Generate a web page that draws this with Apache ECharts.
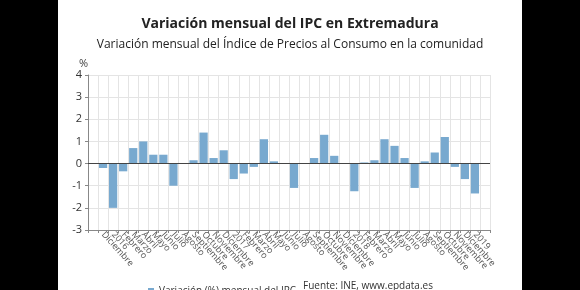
<!DOCTYPE html>
<html>
<head>
<meta charset="utf-8">
<script src="https://cdn.jsdelivr.net/npm/echarts@6/dist/echarts.min.js"></script>
<style>
  html, body { margin: 0; padding: 0; background: #000; }
  #chart { position: absolute; left: 58px; top: 0; width: 464px; height: 290px; background: #fff; }
</style>
</head>
<body>
<div id="chart"></div>
<script>
// months from Dec 2015 to Jan 2019
const months = [
  'Diciembre', '2016', 'Febrero', 'Marzo', 'Abril', 'Mayo', 'Junio', 'Julio', 'Agosto', 'Septiembre', 'Octubre', 'Noviembre',
  'Diciembre', '2017', 'Febrero', 'Marzo', 'Abril', 'Mayo', 'Junio', 'Julio', 'Agosto', 'Septiembre', 'Octubre', 'Noviembre',
  'Diciembre', '2018', 'Febrero', 'Marzo', 'Abril', 'Mayo', 'Junio', 'Julio', 'Agosto', 'Septiembre', 'Octubre', 'Noviembre',
  'Diciembre', '2019'
]
const variacion = [
  -0.2, -2.0, -0.35, 0.7, 1.0, 0.4, 0.4, -1.0, 0.0, 0.15, 1.4, 0.25,
  0.6, -0.7, -0.45, -0.15, 1.1, 0.1, 0.0, -1.1, 0.0, 0.25, 1.3, 0.35,
  0.0, -1.25, 0.05, 0.15, 1.1, 0.8, 0.25, -1.1, 0.1, 0.5, 1.2, -0.15,
  -0.7, -1.35
]
const yTicks = [-3, -2, -1, 0, 1, 2, 3, 4]

const seriesName = 'Variación (%) mensual del IPC'
const fuente = 'Fuente: INE, www.epdata.es'

// one empty slot at each end, like the reference
const cats = [''].concat(months, [''])
const vals = [null].concat(variacion, [null])

const chart = echarts.init(document.getElementById('chart'))
const font = '"Open Sans", sans-serif'

chart.setOption({
  backgroundColor: '#fff',
  animation: false,
  textStyle: { fontFamily: font },
  title: {
    text: 'Variación mensual del IPC en Extremadura',
    subtext: 'Variación mensual del Índice de Precios al Consumo en la comunidad',
    left: 'center',
    top: 12,
    itemGap: 8,
    textStyle: { fontFamily: font, fontSize: 14, fontWeight: 'bold', color: '#222' },
    subtextStyle: { fontFamily: font, fontSize: 12, color: '#222' }
  },
  legend: {
    left: 85,
    top: 281,
    itemWidth: 6,
    itemHeight: 6,
    icon: 'rect',
    textStyle: { fontFamily: font, fontSize: 10, color: '#333' },
    data: [seriesName]
  },
  graphic: [{
    type: 'text',
    left: 245,
    top: 281,
    z: 10,
    style: { text: fuente, font: '10px "Open Sans", sans-serif', fill: '#333' }
  }],
  grid: { left: 30, right: 32, top: 75, bottom: 60 },
  xAxis: {
    type: 'category',
    data: cats,
    axisLine: { onZero: false, lineStyle: { color: '#888' } },
    axisTick: { show: true, interval: 0, length: 3, lineStyle: { color: '#888' } },
    axisLabel: { interval: 0, rotate: -48, color: '#555', fontSize: 9, margin: 3 },
    splitLine: { show: true, interval: 0, lineStyle: { color: '#e4e4e4' } }
  },
  yAxis: {
    type: 'value',
    min: yTicks[0],
    max: yTicks[yTicks.length - 1],
    interval: 1,
    name: '%',
    nameGap: 6,
    nameTextStyle: { color: '#444', fontSize: 11, align: 'right' },
    axisLine: { show: true, lineStyle: { color: '#888' } },
    axisTick: { show: true, length: 3, lineStyle: { color: '#888' } },
    axisLabel: { color: '#333', fontSize: 11, margin: 6 },
    splitLine: { lineStyle: { color: '#e4e4e4' } }
  },
  series: [{
    name: seriesName,
    type: 'bar',
    data: vals,
    barCategoryGap: '18%',
    itemStyle: { color: '#78a9cf' },
    markLine: {
      silent: true,
      symbol: 'none',
      label: { show: false },
      lineStyle: { color: '#444', type: 'solid', width: 1.2 },
      data: [{ yAxis: 0 }]
    }
  }]
})
</script>
</body>
</html>
